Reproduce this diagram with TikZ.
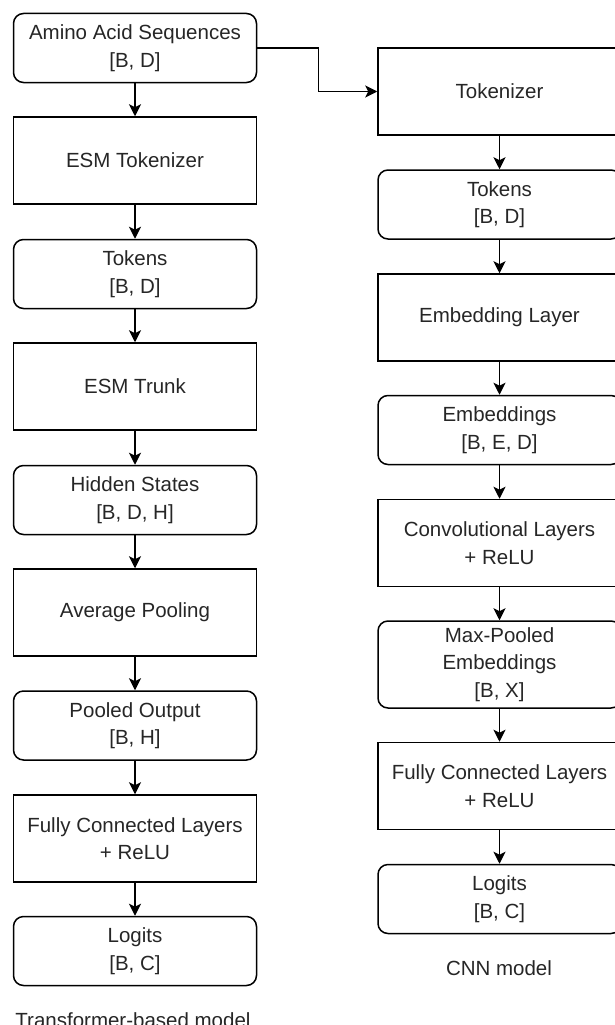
\documentclass[tikz,border=0pt]{standalone}
\usepackage{fontspec}
\setmainfont{Liberation Sans}
\usetikzlibrary{arrows.meta}

\begin{document}
\begin{tikzpicture}[x=1pt,y=-1pt,line width=1.5pt,>={Stealth[length=12pt,width=12pt,inset=3pt]},
  blk/.style={draw,minimum width=243pt,inner sep=0pt,align=center,text=black!85,
    font=\fontsize{20.5}{27.5}\selectfont},
  op/.style={blk,minimum height=87pt},
  dat/.style={blk,rounded corners=10pt,minimum height=69pt}]
  \clip (0,0) rectangle (615,1025);
  % transformer branch
  \node[dat] (seq)    at (135,48)    {Amino Acid Sequences\\{[B, D]}};
  \node[op]  (esmtok) at (135,160.5) {ESM Tokenizer};
  \node[dat] (tok)    at (135,274)   {Tokens\\{[B, D]}};
  \node[op]  (trunk)  at (135,386.5) {ESM Trunk};
  \node[dat] (hid)    at (135,500)   {Hidden States\\{[B, D, H]}};
  \node[op]  (avg)    at (135,612.5) {Average Pooling};
  \node[dat] (pooled) at (135,725.5) {Pooled Output\\{[B, H]}};
  \node[op]  (fc)     at (135,838.5) {Fully Connected Layers\\+ ReLU};
  \node[dat] (logit)  at (135,951)   {Logits\\{[B, C]}};
  \node[anchor=base,text=black!85,font=\fontsize{20.5}{24}\selectfont] (tcap) at (133,1027) {Transformer-based model};
  % CNN branch
  \node[op]  (cnntok) at (499.5,91.5)  {Tokenizer};
  \node[dat] (ctok)   at (499.5,204.5) {Tokens\\{[B, D]}};
  \node[op]  (emb)    at (499.5,317.5) {Embedding Layer};
  \node[dat] (embs)   at (499.5,430)   {Embeddings\\{[B, E, D]}};
  \node[op]  (conv)   at (499.5,543)   {Convolutional Layers\\+ ReLU};
  \node[dat,minimum height=87pt] (maxp) at (499.5,664.5) {Max-Pooled\\Embeddings\\{[B, X]}};
  \node[op]  (cfc)    at (499.5,786)   {Fully Connected Layers\\+ ReLU};
  \node[dat] (clogit) at (499.5,899)   {Logits\\{[B, C]}};
  \node[anchor=base,text=black!85,font=\fontsize{20.5}{24}\selectfont] (ccap) at (499,975) {CNN model};
  % arrows
  \foreach \a/\b in {seq/esmtok,esmtok/tok,tok/trunk,trunk/hid,hid/avg,avg/pooled,pooled/fc,fc/logit,
    cnntok/ctok,ctok/emb,emb/embs,embs/conv,conv/maxp,maxp/cfc,cfc/clogit}
    \draw[->] (\a) -- (\b);
  \draw[->] (seq.east) -- ++(61,0) |- (cnntok.west);
\end{tikzpicture}
\end{document}
